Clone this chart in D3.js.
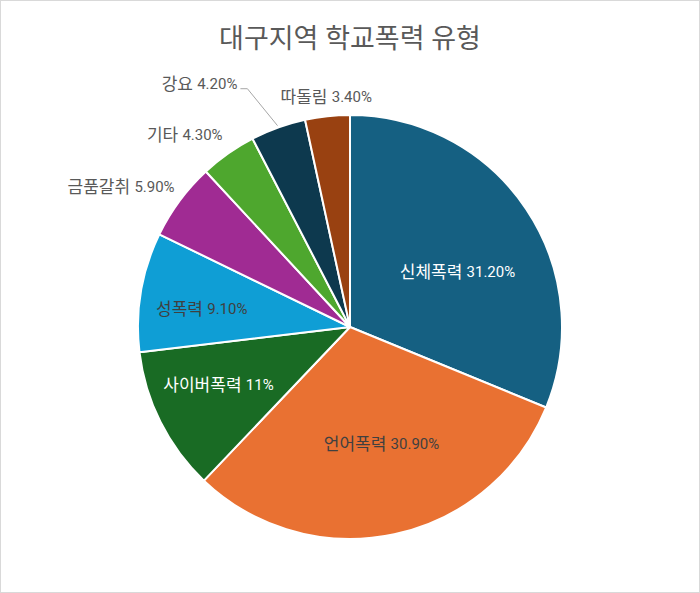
<!DOCTYPE html>
<html>
<head>
<meta charset="utf-8">
<script src="https://cdn.jsdelivr.net/npm/d3@7"></script>
<style>
  body { margin: 0; background: #fff; }
  text { font-family: Roboto, "Noto Sans CJK KR", sans-serif; }
</style>
</head>
<body>
<div id="chart"></div>
<script>
// data
const categories = ["신체폭력", "언어폭력", "사이버폭력", "성폭력", "금품갈취", "기타", "강요", "따돌림"];
const shares = [31.2, 30.9, 11, 9.1, 5.9, 4.3, 4.2, 3.4];
const shareLabels = ["31.20%", "30.90%", "11%", "9.10%", "5.90%", "4.30%", "4.20%", "3.40%"];
const title = "대구지역 학교폭력 유형";

const colors = ["#156082", "#E97132", "#196B24", "#0F9ED5", "#A02B93", "#4EA72E", "#0D394E", "#994111"];

const width = 700, height = 593;
const cx = 350, cy = 327, R = 212;

// label placement (inside labels ride an inner arc, outside ones an outer arc)
const labelCfg = [
  {inside: true, dx: 2, dy: 16, fill: "#ffffff"},
  {inside: true, dx: 5, dy: -7, fill: "#404040"},
  {inside: true, dx: -18, dy: 1, fill: "#ffffff"},
  {inside: true, dx: -23, dy: 3, fill: "#404040"},
  {inside: false, dx: 11, dy: -2, anchor: "end"},
  {inside: false, dx: 6, dy: -2, anchor: "end"},
  {inside: false, dx: -34, dy: -25, anchor: "end", leader: true},
  {inside: false, dx: 1, dy: 1, anchor: "middle"}
];

const svg = d3.select("#chart").append("svg")
  .attr("width", width)
  .attr("height", height);

svg.append("rect")
  .attr("x", 0.5).attr("y", 0.5)
  .attr("width", width - 1).attr("height", height - 1)
  .attr("fill", "#fff")
  .attr("stroke", "#d9d9d9");

svg.append("text")
  .attr("x", width / 2)
  .attr("y", 39)
  .attr("text-anchor", "middle")
  .attr("dominant-baseline", "central")
  .attr("fill", "#595959")
  .attr("font-size", 27)
  .text(title);

const data = categories.map((c, i) => ({name: c, value: shares[i], label: shareLabels[i], i: i}));

const pie = d3.pie().sort(null).value(d => d.value);
const arcs = pie(data);

const arc = d3.arc().innerRadius(0).outerRadius(R);
const innerLabelArc = d3.arc().innerRadius(127).outerRadius(127);
const outerLabelArc = d3.arc().innerRadius(232).outerRadius(232);
const edgeArc = d3.arc().innerRadius(R + 2).outerRadius(R + 2);

const g = svg.append("g").attr("transform", "translate(" + cx + "," + cy + ")");

g.selectAll("path.slice")
  .data(arcs)
  .enter()
  .append("path")
  .attr("class", "slice")
  .attr("d", arc)
  .attr("fill", d => colors[d.data.i])
  .attr("stroke", "#fff")
  .attr("stroke-width", 2)
  .attr("stroke-linejoin", "round");

// labels
arcs.forEach(d => {
  const cfg = labelCfg[d.data.i];
  const p = (cfg.inside ? innerLabelArc : outerLabelArc).centroid(d);
  const x = p[0] + cfg.dx, y = p[1] + cfg.dy;

  const t = g.append("text")
    .attr("x", x)
    .attr("y", y)
    .attr("dominant-baseline", "central")
    .attr("text-anchor", cfg.anchor || "middle")
    .attr("fill", cfg.fill || "#595959")
    .attr("font-size", 17);
  t.append("tspan").text(d.data.name + " ");
  t.append("tspan").attr("font-size", 15).text(d.data.label);

  if (cfg.leader) {
    const e = edgeArc.centroid(d);
    g.append("polyline")
      .attr("points", [[e[0], e[1]], [x + 10, y + 5], [x + 3, y + 5]].map(q => q.join(",")).join(" "))
      .attr("fill", "none")
      .attr("stroke", "#a6a6a6")
      .attr("stroke-width", 1);
  }
});
</script>
</body>
</html>
